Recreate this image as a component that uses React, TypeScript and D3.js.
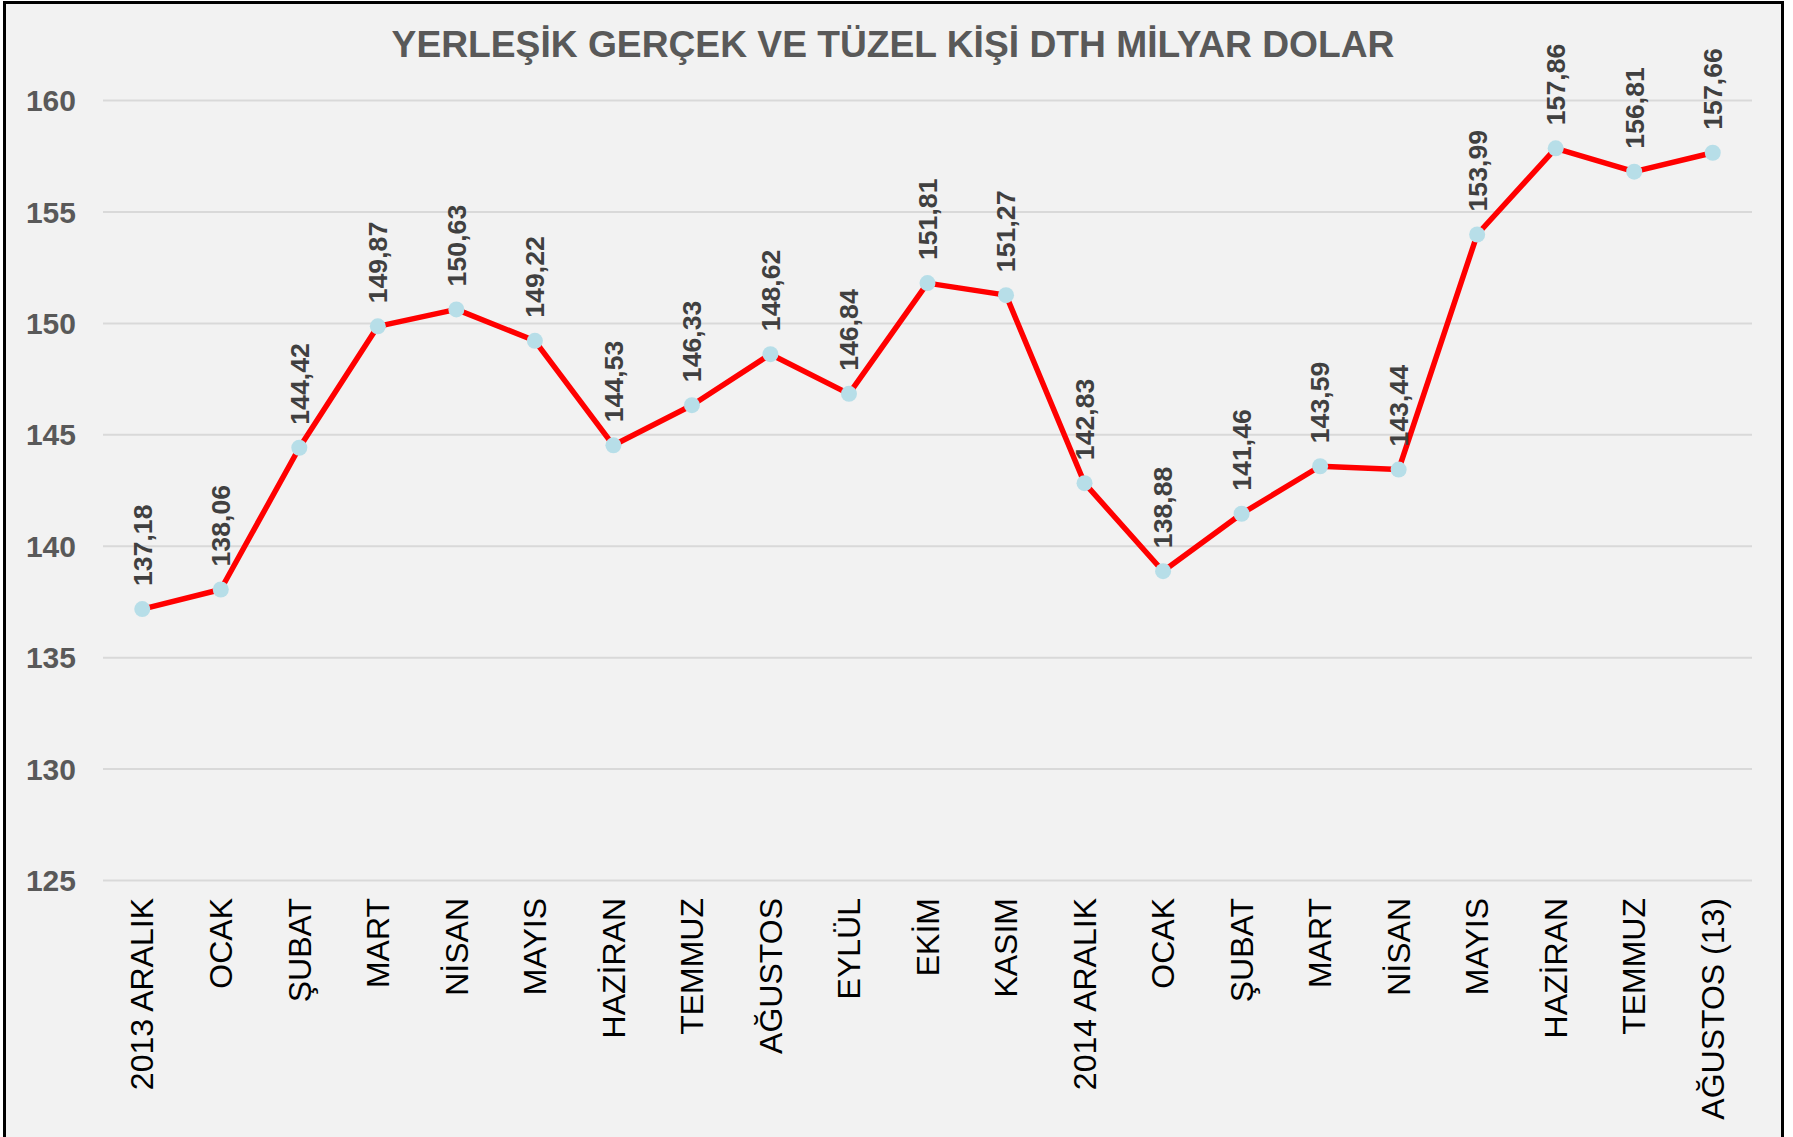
import React from "react";
import * as d3 from "d3";

const categories = [
  "2013 ARALIK", "OCAK", "ŞUBAT", "MART", "NİSAN", "MAYIS", "HAZİRAN", "TEMMUZ",
  "AĞUSTOS", "EYLÜL", "EKİM", "KASIM", "2014 ARALIK", "OCAK", "ŞUBAT", "MART",
  "NİSAN", "MAYIS", "HAZİRAN", "TEMMUZ", "AĞUSTOS (13)",
];
const values = [
  137.18, 138.06, 144.42, 149.87, 150.63, 149.22, 144.53, 146.33, 148.62, 146.84,
  151.81, 151.27, 142.83, 138.88, 141.46, 143.59, 143.44, 153.99, 157.86, 156.81, 157.66,
];
const yTicks = [125, 130, 135, 140, 145, 150, 155, 160];
const title = "YERLEŞİK GERÇEK VE TÜZEL KİŞİ DTH MİLYAR DOLAR";

const W = 1793;
const H = 1137;
const FONT = "'Liberation Sans', Arial, sans-serif";

export default function App() {
  const keys = categories.map((_, i) => String(i));
  const x = d3.scaleBand<string>().domain(keys).range([103, 1752]).padding(0);
  const y = d3.scaleLinear().domain([125, 160]).range([880.5, 100.6]);
  const cx = (i: number) => (x(String(i)) as number) + x.bandwidth() / 2;
  const line = d3
    .line<number>()
    .x((_, i) => cx(i))
    .y((d) => y(d));
  const fmt = (v: number) => v.toFixed(2).replace(".", ",");

  return (
    <svg
      width={W}
      height={H}
      style={{ position: "absolute", left: 0, top: 0, background: "#ffffff" }}
      fontFamily={FONT}
    >
      <rect x={4.5} y={2.5} width={1778} height={H + 10} fill="#F2F2F2" stroke="#000" strokeWidth={3} />
      <text x={893} y={57} textAnchor="middle" fontSize={37.2} fontWeight="bold" fill="#595959">
        {title}
      </text>
      {yTicks.map((t) => (
        <g key={t}>
          <line x1={103} x2={1752} y1={y(t)} y2={y(t)} stroke="#D9D9D9" strokeWidth={2} />
          <text
            x={76}
            y={y(t)}
            dy="0.35em"
            textAnchor="end"
            fontSize={30}
            fontWeight="bold"
            fill="#595959"
          >
            {t}
          </text>
        </g>
      ))}
      {categories.map((c, i) => (
        <text
          key={"c" + i}
          transform={`translate(${cx(i)},898) rotate(-90)`}
          dy="0.35em"
          textAnchor="end"
          fontSize={32}
          fill="#000"
        >
          {c}
        </text>
      ))}
      <path d={line(values) || ""} fill="none" stroke="#FF0000" strokeWidth={5.5} strokeLinejoin="round" />
      {values.map((v, i) => (
        <circle key={"p" + i} cx={cx(i)} cy={y(v)} r={8} fill="#B7DEE8" />
      ))}
      {values.map((v, i) => (
        <text
          key={"l" + i}
          transform={`translate(${cx(i)},${y(v) - 23}) rotate(-90)`}
          dy="0.35em"
          textAnchor="start"
          fontSize={26.7}
          fontWeight="bold"
          fill="#404040"
        >
          {fmt(v)}
        </text>
      ))}
    </svg>
  );
}
